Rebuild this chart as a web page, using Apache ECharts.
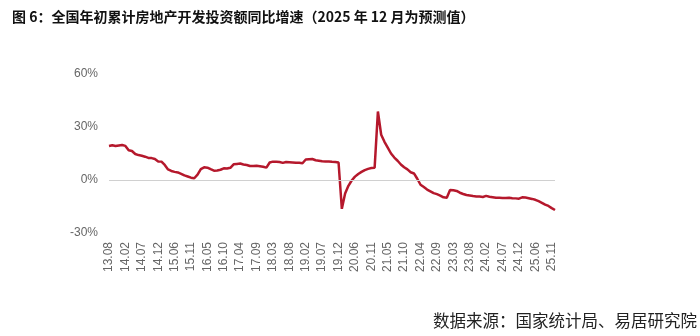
<!DOCTYPE html>
<html><head><meta charset="utf-8">
<script src="https://cdn.jsdelivr.net/npm/echarts@6/dist/echarts.min.js"></script>
<style>html,body{margin:0;padding:0;background:#fff}#c{width:700px;height:336px}</style>
</head><body><div id="c"></div>
<script>
const titleText = '图 6：全国年初累计房地产开发投资额同比增速（2025 年 12 月为预测值）';
const sourceText = '数据来源：国家统计局、易居研究院';
const yTicks = [-30, 0, 30, 60];
const months = [];
(function(){
  for (let y = 2013; y <= 2025; y++) {
    for (let m = 2; m <= 12; m++) {
      if (y === 2013 && m < 8) continue;
      months.push(String(y).slice(2) + '.' + (m < 10 ? '0' + m : m));
    }
  }
})();
const v2013 = [19.3, 19.7, 19.2, 19.5, 19.8];
const v2014 = [19.3, 16.8, 16.4, 14.7, 14.1, 13.7, 13.2, 12.5, 12.4, 11.9, 10.5];
const v2015 = [10.4, 8.5, 6.0, 5.1, 4.6, 4.3, 3.5, 2.6, 2.0, 1.3, 1.0];
const v2016 = [3.0, 6.2, 7.2, 7.0, 6.1, 5.3, 5.4, 5.8, 6.6, 6.5, 6.9];
const v2017 = [8.9, 9.1, 9.3, 8.8, 8.5, 7.9, 7.9, 8.1, 7.8, 7.5, 7.0];
const v2018 = [9.9, 10.4, 10.3, 10.2, 9.7, 10.2, 10.1, 9.9, 9.7, 9.7, 9.5];
const v2019 = [11.6, 11.8, 11.9, 11.2, 10.9, 10.6, 10.5, 10.5, 10.3, 10.2, 9.9];
const v2020 = [-16.3, -7.7, -3.3, -0.3, 1.9, 3.4, 4.6, 5.6, 6.3, 6.8, 7.0];
const v2021 = [38.8, 25.6, 21.6, 18.3, 15.0, 12.7, 10.9, 8.8, 7.2, 6.0, 4.4];
const v2022 = [3.7, 0.7, -2.7, -4.0, -5.4, -6.4, -7.4, -8.0, -8.8, -9.8, -10.0];
const v2023 = [-5.7, -5.8, -6.2, -7.2, -7.9, -8.5, -8.8, -9.1, -9.3, -9.4, -9.6];
const v2024 = [-9.0, -9.5, -9.8, -10.1, -10.1, -10.2, -10.2, -10.1, -10.3, -10.4, -10.6];
const v2025 = [-9.8, -9.9, -10.3, -10.7, -11.2, -12.0, -12.9, -13.9, -14.7, -15.9, -17.0];
const values = [].concat(v2013, v2014, v2015, v2016, v2017, v2018, v2019, v2020, v2021, v2022, v2023, v2024, v2025);

const chart = echarts.init(document.getElementById('c'), null, {renderer: 'canvas'});
chart.setOption({
  animation: false,
  backgroundColor: '#fff',
  title: {
    text: titleText, left: 7, top: 5,
    textStyle: {fontFamily: 'Noto Sans CJK SC', fontWeight: 'bold', fontSize: 14, color: '#111'}
  },
  graphic: [{
    type: 'text', right: 3, top: 312,
    style: {text: sourceText, fontFamily: 'Noto Sans CJK SC', fontSize: 16.5, fill: '#222'}
  }],
  grid: {left: 109, right: 145, top: 74, bottom: 103, containLabel: false},
  xAxis: {
    type: 'category', data: months, boundaryGap: false,
    axisLine: {show: false}, axisTick: {show: false}, splitLine: {show: false},
    axisLabel: {interval: 4, rotate: 90, margin: 9, color: '#666', fontSize: 12, fontFamily: 'Liberation Sans'}
  },
  yAxis: {
    type: 'value', min: yTicks[0], max: yTicks[yTicks.length - 1], interval: 30,
    axisLine: {show: false}, axisTick: {show: false}, splitLine: {show: false},
    axisLabel: {formatter: '{value}%', color: '#666', fontSize: 12, margin: 11, fontFamily: 'Liberation Sans'}
  },
  series: [{
    type: 'line', data: values, showSymbol: false, smooth: false,
    lineStyle: {color: '#B5182C', width: 2.5},
    markLine: {
      silent: true, symbol: 'none', label: {show: false},
      lineStyle: {color: '#d0d0d0', width: 1, type: 'solid'},
      data: [{yAxis: 0}]
    },
    z: 3
  }]
});
</script></body></html>
